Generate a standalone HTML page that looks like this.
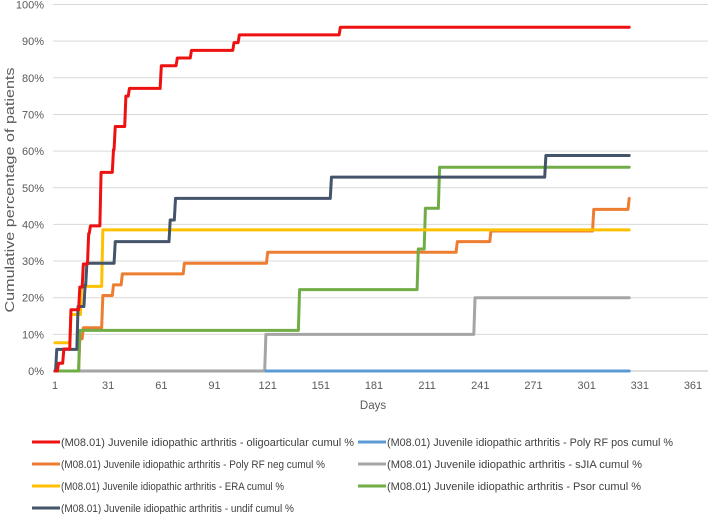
<!DOCTYPE html>
<html><head><meta charset="utf-8">
<style>
html,body{margin:0;padding:0;background:#fff;}
svg{display:block;font-family:"Liberation Sans",sans-serif;}
</style></head>
<body>
<svg id="chart" width="708" height="514" viewBox="0 0 708 514" xmlns="http://www.w3.org/2000/svg">
<g id="grid"></g>
<g id="yaxis"></g>
<g id="xaxis"></g>
<text x="0" y="0" transform="translate(14,190) rotate(-90)" text-anchor="middle" font-size="13" fill="#595959" textLength="245" lengthAdjust="spacingAndGlyphs">Cumulative percentage of patients</text>
<text x="373" y="409" text-anchor="middle" font-size="11.5" fill="#595959">Days</text>
<g id="series"></g>
<g id="legend"></g>
</svg>
<script>
const yTicks = [0,10,20,30,40,50,60,70,80,90,100];
const xTicks = [1,31,61,91,121,151,181,211,241,271,301,331,361];

const oligoDays = [1,3,6,10,13,15,17,20,21,27,34,35,38,41,43,61,70,78,102,105,162,325];
const oligoVals = [0,2.1,6,16.7,16.7,22.9,29.2,37.5,39.6,54.2,60.4,66.7,66.7,75,77.1,83.3,85.4,87.5,89.6,91.7,93.8,93.8];

const polyPosDays = [120,325];
const polyPosVals = [0,0];

const polyNegDays = [1,15,17,28,34,39,74,121,228,247,305,324,325];
const polyNegVals = [0,8.8,11.8,20.6,23.5,26.5,29.4,32.4,35.3,38.2,44.1,44.1,47.1];

const sjiaDays = [1,120,238,325];
const sjiaVals = [0,10,20,20];

const eraDays = [1,8,10,16,28,325];
const eraVals = [7.7,7.7,15.4,23.1,38.5,38.5];

const psorDays = [1,15,139,206,210,218,325];
const psorVals = [0,11.1,22.2,33.3,44.4,55.6,55.6];

const undifDays = [1,2,14,18,19,35,66,69,157,278,325];
const undifVals = [0,5.9,17.6,23.5,29.4,35.3,41.2,47.1,52.9,58.8,58.8];

const seriesNames = [
 "(M08.01) Juvenile idiopathic arthritis - oligoarticular cumul %",
 "(M08.01) Juvenile idiopathic arthritis - Poly RF pos cumul %",
 "(M08.01) Juvenile idiopathic arthritis - Poly RF neg cumul %",
 "(M08.01) Juvenile idiopathic arthritis - sJIA cumul %",
 "(M08.01) Juvenile idiopathic arthritis - ERA cumul %",
 "(M08.01) Juvenile idiopathic arthritis - Psor cumul %",
 "(M08.01) Juvenile idiopathic arthritis - undif cumul %"
];

const NS = "http://www.w3.org/2000/svg";
function xs(d){ return 55 + (d-1)*(693-55)/360; }
function ys(v){ return 371 - v*(371-4.5)/100; }
function mk(tag, attrs, parent){ const e=document.createElementNS(NS,tag); for(const k in attrs) e.setAttribute(k,attrs[k]); parent.appendChild(e); return e; }

const grid=document.getElementById('grid'), ya=document.getElementById('yaxis'), xa=document.getElementById('xaxis');
yTicks.forEach(t=>{
  const l=mk('line',{x1:53,x2:708,y1:ys(t),y2:ys(t),stroke:t===0?'#bfbfbf':'#d9d9d9','stroke-width':1},grid);
  
  
  const tx=mk('text',{x:44,y:ys(t)+4,'text-anchor':'end','font-size':11,fill:'#595959'},ya);
  tx.textContent=t+'%';
  
  
});
xTicks.forEach(t=>{
  const tx=mk('text',{x:xs(t),y:389,'text-anchor':'middle','font-size':11,fill:'#595959'},xa);
  tx.textContent=t;
  
  
});

const seriesList=[
 [oligoDays,oligoVals,'#ee1111','oligoarticular'],
 [polyPosDays,polyPosVals,'#5b9bd5','poly-rf-pos'],
 [polyNegDays,polyNegVals,'#ed7d31','poly-rf-neg'],
 [sjiaDays,sjiaVals,'#a5a5a5','sjia'],
 [eraDays,eraVals,'#ffc000','era'],
 [psorDays,psorVals,'#70ad47','psor'],
 [undifDays,undifVals,'#44546a','undif']
];
const drawOrder=[3,1,2,5,4,6,0];
const sg=document.getElementById('series');
drawOrder.forEach(i=>{
  const [d,v,c,n]=seriesList[i];
  let p='M'+xs(d[0])+','+ys(v[0]);
  for(let k=1;k<d.length;k++){
    p+=' L'+(xs(d[k])-1.2)+','+ys(v[k-1])+' L'+xs(d[k])+','+ys(v[k]);
  }
  const path=mk('path',{d:p,fill:'none',stroke:c,'stroke-width':3,'stroke-linejoin':'round','stroke-linecap':'round'},sg);
  
  
});

const lg=document.getElementById('legend');
const legendRows=[442,442,464,464,486,486,508];
const legendCols=[0,1,0,1,0,1,0];
const legendWidths=[293,286,264,255,223,254,233];
seriesNames.forEach((name,i)=>{
  const lx=legendCols[i]?358:32, ty=legendRows[i];
  const g=mk('g',{},lg);
  
  
  mk('line',{x1:lx,x2:lx+28,y1:ty,y2:ty,stroke:seriesList[i][2],'stroke-width':3},g);
  const t=mk('text',{x:lx+29,y:ty+4,'font-size':11,fill:'#404040',textLength:legendWidths[i],lengthAdjust:'spacingAndGlyphs'},g);
  t.textContent=name;
});
</script>
</body></html>
